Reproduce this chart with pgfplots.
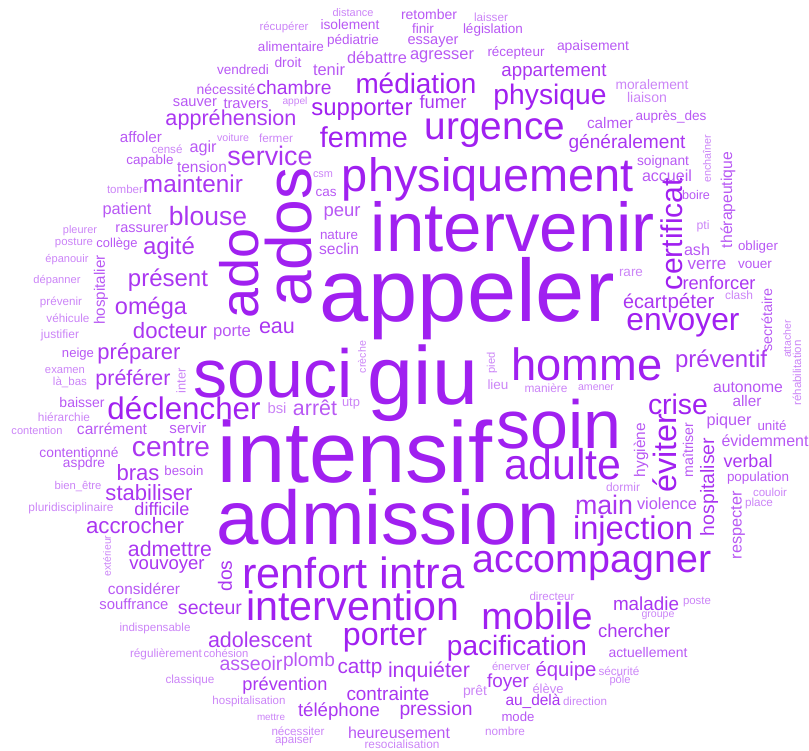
\documentclass[border=0pt]{standalone}
\usepackage{fontspec}
\setmainfont{Liberation Sans}[Ligatures=NoCommon]
\usepackage{graphicx}
\usepackage{pgfplots}
\usepackage{pgfplotstable}
\pgfplotsset{compat=1.18}
\definecolor{wc}{RGB}{160,32,240}
\newcommand\W[4]{\rotatebox{#2}{\color{wc!#3!white}\resizebox{#1pt}{!}{#4}}}
\pgfplotstableread{
x y lab
355 452 \W{274}{0}{100}{intensif}
388 517 \W{343}{0}{100}{admission}
467 299 \W{295}{0}{100}{appeler}
423 383 \W{110}{0}{100}{giu}
273 373 \W{159}{0}{100}{souci}
559 424 \W{125}{0}{100}{soin}
513 227 \W{284}{0}{100}{intervenir}
488 179 \W{292}{0}{100}{physiquement}
289 237 \W{139}{90}{100}{ados}
239 273 \W{90}{90}{100}{ado}
587 364 \W{151}{0}{100}{homme}
495 133 \W{140}{0}{100}{urgence}
305 573 \W{125}{0}{100}{renfort}
422 573 \W{85}{0}{100}{intra}
592 566 \W{239}{0}{100}{accompagner}
353 606 \W{213}{0}{100}{intervention}
563 464 \W{117}{0}{100}{adulte}
537 616 \W{111}{0}{100}{mobile}
633 531 \W{120}{0}{100}{injection}
416 83 \W{121}{0}{100}{médiation}
550 97 \W{113}{0}{100}{physique}
184 408 \W{153}{0}{100}{déclencher}
385 638 \W{84}{0}{100}{porter}
517 648 \W{140}{0}{100}{pacification}
678 404 \W{60}{0}{100}{crise}
672 234 \W{112}{90}{100}{certificat}
665 453 \W{79}{90}{100}{éviter}
683 325 \W{113}{0}{100}{envoyer}
364 137 \W{88}{0}{100}{femme}
362 110 \W{101}{0}{100}{supporter}
231 120 \W{131}{0}{90}{appréhension}
270 156 \W{85}{0}{90}{service}
193 184 \W{100}{0}{90}{maintenir}
208 216 \W{78}{0}{90}{blouse}
169 248 \W{52}{0}{90}{agité}
168 280 \W{80}{0}{90}{présent}
151 308 \W{72}{0}{90}{oméga}
170 331 \W{74}{0}{90}{docteur}
139 354 \W{83}{0}{90}{préparer}
133 380 \W{75}{0}{90}{préférer}
171 448 \W{78}{0}{90}{centre}
138 473 \W{43}{0}{90}{bras}
149 493 \W{87}{0}{90}{stabiliser}
135 526 \W{98}{0}{90}{accrocher}
170 549 \W{84}{0}{90}{admettre}
162 509 \W{55}{0}{90}{difficile}
260 640 \W{104}{0}{90}{adolescent}
721 361 \W{92}{0}{90}{préventif}
604 505 \W{58}{0}{90}{main}
634 631 \W{72}{0}{90}{chercher}
429 672 \W{82}{0}{90}{inquiéter}
436 711 \W{73}{0}{90}{pression}
388 694 \W{83}{0}{90}{contrainte}
339 712 \W{82}{0}{90}{téléphone}
360 669 \W{45}{0}{90}{cattp}
508 683 \W{42}{0}{90}{foyer}
566 671 \W{61}{0}{90}{équipe}
646 604 \W{66}{0}{90}{maladie}
210 608 \W{64}{0}{90}{secteur}
167 566 \W{75}{0}{90}{vouvoyer}
554 72 \W{105}{0}{90}{appartement}
627 143 \W{117}{0}{90}{généralement}
719 283 \W{73}{0}{90}{renforcer}
691 303 \W{47}{0}{90}{péter}
645 301 \W{44}{0}{90}{écart}
748 461 \W{49}{0}{90}{verbal}
709 487 \W{98}{90}{90}{hospitaliser}
277 328 \W{36}{0}{90}{eau}
285 686 \W{85}{0}{90}{prévention}
533 701 \W{55}{0}{90}{au\_delà}
443 102 \W{47}{0}{90}{fumer}
294 88 \W{75}{0}{90}{chambre}
225 576 \W{31}{90}{90}{dos}
429 15 \W{56}{0}{75}{retomber}
350 25 \W{59}{0}{75}{isolement}
423 29 \W{22}{0}{75}{finir}
493 30 \W{60}{0}{75}{législation}
353 41 \W{52}{0}{75}{pédiatrie}
433 42 \W{51}{0}{75}{essayer}
516 53 \W{57}{0}{75}{récepteur}
288 63 \W{27}{0}{75}{droit}
377 58 \W{60}{0}{75}{débattre}
442 57 \W{64}{0}{75}{agresser}
329 70 \W{32}{0}{75}{tenir}
291 47 \W{66}{0}{75}{alimentaire}
593 47 \W{72}{0}{75}{apaisement}
243 70 \W{52}{0}{75}{vendredi}
226 89 \W{59}{0}{75}{nécessité}
195 103 \W{44}{0}{75}{sauver}
246 104 \W{45}{0}{75}{travers}
141 137 \W{42}{0}{75}{affoler}
203 148 \W{27}{0}{75}{agir}
150 161 \W{47}{0}{75}{capable}
202 167 \W{50}{0}{75}{tension}
610 123 \W{46}{0}{75}{calmer}
671 117 \W{71}{0}{75}{auprès\_des}
663 162 \W{52}{0}{75}{soignant}
667 176 \W{50}{0}{75}{accueil}
728 200 \W{96}{90}{75}{thérapeutique}
696 195 \W{28}{0}{75}{boire}
697 250 \W{26}{0}{75}{ash}
758 247 \W{40}{0}{75}{obliger}
707 265 \W{39}{0}{75}{verre}
755 265 \W{34}{0}{75}{vouer}
127 210 \W{49}{0}{75}{patient}
142 229 \W{53}{0}{75}{rassurer}
117 244 \W{41}{0}{75}{collège}
101 290 \W{69}{90}{75}{hospitalier}
232 333 \W{38}{0}{75}{porte}
78 354 \W{32}{0}{75}{neige}
342 213 \W{37}{0}{75}{peur}
339 235 \W{38}{0}{75}{nature}
339 249 \W{40}{0}{75}{seclin}
326 193 \W{21}{0}{75}{cas}
315 408 \W{44}{0}{75}{arrêt}
82 403 \W{45}{0}{75}{baisser}
112 429 \W{70}{0}{75}{carrément}
188 428 \W{37}{0}{75}{servir}
79 452 \W{79}{0}{75}{contentionné}
84 464 \W{42}{0}{75}{aspdre}
184 471 \W{39}{0}{75}{besoin}
144 589 \W{72}{0}{75}{considérer}
134 604 \W{69}{0}{75}{souffrance}
748 387 \W{70}{0}{75}{autonome}
747 401 \W{29}{0}{75}{aller}
729 421 \W{45}{0}{75}{piquer}
772 426 \W{29}{0}{75}{unité}
765 441 \W{87}{0}{75}{évidemment}
641 450 \W{54}{90}{75}{hygiène}
688 450 \W{55}{90}{75}{maîtriser}
758 478 \W{62}{0}{75}{population}
667 504 \W{60}{0}{75}{violence}
738 525 \W{68}{90}{75}{respecter}
309 662 \W{52}{0}{75}{plomb}
251 664 \W{63}{0}{75}{asseoir}
518 717 \W{33}{0}{75}{mode}
399 733 \W{102}{0}{75}{heureusement}
648 653 \W{79}{0}{75}{actuellement}
767 320 \W{63}{90}{75}{secrétaire}
284 27 \W{49}{0}{55}{récupérer}
353 13 \W{41}{0}{55}{distance}
491 17 \W{34}{0}{55}{laisser}
295 102 \W{25}{0}{55}{appel}
652 85 \W{73}{0}{55}{moralement}
647 97 \W{40}{0}{55}{liaison}
233 138 \W{32}{0}{55}{voiture}
276 138 \W{34}{0}{55}{fermer}
167 149 \W{31}{0}{55}{censé}
125 189 \W{36}{0}{55}{tomber}
323 175 \W{20}{0}{55}{csm}
707 159 \W{48}{90}{55}{enchaîner}
703 226 \W{13}{0}{55}{pti}
631 273 \W{24}{0}{55}{rare}
739 295 \W{28}{0}{55}{clash}
787 339 \W{38}{90}{55}{attacher}
797 373 \W{65}{90}{55}{réhabilitation}
80 231 \W{34}{0}{55}{pleurer}
74 243 \W{38}{0}{55}{posture}
67 260 \W{43}{0}{55}{épanouir}
57 281 \W{47}{0}{55}{dépanner}
61 302 \W{42}{0}{55}{prévenir}
68 318 \W{43}{0}{55}{véhicule}
60 335 \W{38}{0}{55}{justifier}
65 371 \W{40}{0}{55}{examen}
181 381 \W{25}{90}{55}{inter}
70 382 \W{34}{0}{55}{là\_bas}
64 417 \W{52}{0}{55}{hiérarchie}
37 431 \W{51}{0}{55}{contention}
78 487 \W{47}{0}{55}{bien\_être}
71 508 \W{85}{0}{55}{pluridisciplinaire}
107 556 \W{41}{90}{55}{extérieur}
362 357 \W{32}{90}{55}{crèche}
492 363 \W{21}{90}{55}{pied}
277 408 \W{19}{0}{55}{bsi}
351 404 \W{18}{0}{55}{utp}
498 385 \W{21}{0}{55}{lieu}
546 388 \W{43}{0}{55}{manière}
596 388 \W{36}{0}{55}{amener}
623 487 \W{34}{0}{55}{dormir}
770 492 \W{34}{0}{55}{couloir}
759 503 \W{28}{0}{55}{place}
155 628 \W{71}{0}{55}{indispensable}
166 654 \W{72}{0}{55}{régulièrement}
226 653 \W{45}{0}{55}{cohésion}
190 680 \W{49}{0}{55}{classique}
249 702 \W{73}{0}{55}{hospitalisation}
271 717 \W{28}{0}{55}{mettre}
298 731 \W{53}{0}{55}{nécessiter}
294 741 \W{38}{0}{55}{apaiser}
402 744 \W{75}{0}{55}{resocialisation}
505 731 \W{40}{0}{55}{nombre}
511 666 \W{38}{0}{55}{énerver}
475 692 \W{24}{0}{55}{prêt}
548 689 \W{31}{0}{55}{élève}
585 701 \W{44}{0}{55}{direction}
552 596 \W{45}{0}{55}{directeur}
697 602 \W{28}{0}{55}{poste}
658 616 \W{33}{0}{55}{groupe}
619 671 \W{41}{0}{55}{sécurité}
620 681 \W{21}{0}{55}{pôle}
}\words
\begin{document}
\begin{tikzpicture}
\begin{axis}[
  hide axis, scale only axis,
  width=809pt, height=751pt,
  xmin=0, xmax=809, ymin=0, ymax=751,
  y dir=reverse, clip=false,
]
\addplot[only marks, mark=none,
  point meta=explicit symbolic,
  nodes near coords,
  nodes near coords style={anchor=center, inner sep=0pt},
] table[x=x, y=y, meta=lab] {\words};
\end{axis}
\path[use as bounding box] (current axis.south west) rectangle (current axis.north east);
\end{tikzpicture}
\end{document}
